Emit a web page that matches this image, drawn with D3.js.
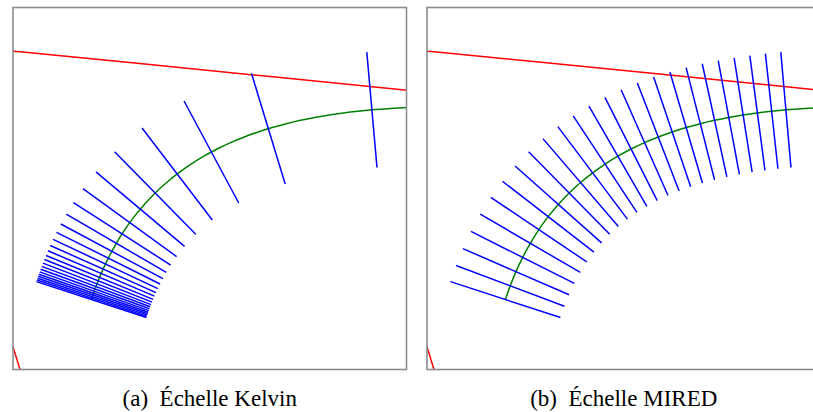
<!DOCTYPE html>
<html><head><meta charset="utf-8">
<script src="https://cdn.jsdelivr.net/npm/d3@7"></script>
<style>html,body{margin:0;padding:0;background:#fff;}svg{display:block;}</style>
</head><body>
<svg id="chart" width="813" height="412"></svg>
<script>
// ---------- data (CIE 1960 u,v) ----------
// Panel (a): isotherms at equal Kelvin steps (2000 K -> 20000 K, step 750 K)
const kelvinT  = [2000,2750,3500,4250,5000,5750,6500,7250,8000,8750,9500,10250,11000,11750,12500,13250,14000,14750,15500,16250,17000,17750,18500,19250,20000];
const kelvinU  = [0.30505,0.26031,0.23571,0.22093,0.21142,0.20499,0.20045,0.19712,0.19462,0.19269,0.19117,0.18994,0.18893,0.18810,0.18740,0.18680,0.18629,0.18584,0.18545,0.18511,0.18481,0.18454,0.18430,0.18408,0.18388];
const kelvinV  = [0.35907,0.35092,0.34084,0.33135,0.32312,0.31617,0.31036,0.30550,0.30141,0.29794,0.29499,0.29246,0.29027,0.28836,0.28668,0.28520,0.28388,0.28271,0.28165,0.28070,0.27984,0.27906,0.27834,0.27769,0.27709];
const kelvinNu = [-0.0880,-0.2914,-0.4725,-0.6072,-0.7007,-0.7649,-0.8094,-0.8411,-0.8643,-0.8815,-0.8948,-0.9051,-0.9133,-0.9199,-0.9254,-0.9299,-0.9338,-0.9370,-0.9398,-0.9422,-0.9443,-0.9461,-0.9478,-0.9492,-0.9505];
const kelvinNv = [0.9961,0.9566,0.8813,0.7945,0.7135,0.6442,0.5872,0.5408,0.5030,0.4721,0.4465,0.4252,0.4073,0.3920,0.3790,0.3677,0.3579,0.3493,0.3418,0.3351,0.3291,0.3237,0.3189,0.3145,0.3106];

// Panel (b): isotherms at equal MIRED steps (500 -> 50 mired, step 18.75)
const miredM  = [500,481.25,462.5,443.75,425,406.25,387.5,368.75,350,331.25,312.5,293.75,275,256.25,237.5,218.75,200,181.25,162.5,143.75,125,106.25,87.5,68.75,50];
const miredU  = [0.30505,0.29890,0.29274,0.28657,0.28039,0.27423,0.26808,0.26197,0.25591,0.24990,0.24399,0.23817,0.23247,0.22692,0.22155,0.21637,0.21142,0.20674,0.20236,0.19831,0.19462,0.19133,0.18844,0.18596,0.18388];
const miredV  = [0.35907,0.35846,0.35772,0.35683,0.35577,0.35453,0.35308,0.35142,0.34951,0.34734,0.34488,0.34213,0.33904,0.33561,0.33182,0.32766,0.32312,0.31819,0.31291,0.30730,0.30141,0.29531,0.28915,0.28302,0.27709];
const miredNu = [-0.0880,-0.1083,-0.1308,-0.1556,-0.1829,-0.2128,-0.2455,-0.2811,-0.3197,-0.3611,-0.4053,-0.4519,-0.5005,-0.5506,-0.6012,-0.6516,-0.7007,-0.7474,-0.7908,-0.8300,-0.8643,-0.8934,-0.9173,-0.9362,-0.9505];
const miredNv = [0.9961,0.9941,0.9914,0.9878,0.9831,0.9771,0.9694,0.9597,0.9475,0.9325,0.9142,0.8921,0.8657,0.8348,0.7991,0.7585,0.7135,0.6643,0.6121,0.5578,0.5030,0.4493,0.3983,0.3516,0.3106];

// Planckian locus (green), 575 mired (~1740 K) -> 50 mired (20000 K)
const locusU = [0.32931,0.32129,0.31320,0.30505,0.29890,0.29274,0.28657,0.28039,0.27423,0.26808,0.26197,0.25591,0.24990,0.24399,0.23817,0.23247,0.22692,0.22155,0.21637,0.21142,0.20674,0.20236,0.19831,0.19462,0.19133,0.18844,0.18596,0.18388];
const locusV = [0.36038,0.36011,0.35968,0.35907,0.35846,0.35772,0.35683,0.35577,0.35453,0.35308,0.35142,0.34951,0.34734,0.34488,0.34213,0.33904,0.33561,0.33182,0.32766,0.32312,0.31819,0.31291,0.30730,0.30141,0.29531,0.28915,0.28302,0.27709];

// Spectral locus (red, upper) and lower-left boundary (red)
const spectralU = [0.1319,0.1531,0.2026,0.2623,0.3315];
const spectralV = [0.3861,0.3841,0.3793,0.3733,0.3664];
const boundaryU = [0.1490,0.1550];
const boundaryV = [0.2600,0.2404];

const panelLabels = ["(a)\u2002\u00C9chelle Kelvin","(b)\u2002\u00C9chelle MIRED"];

// ---------- drawing ----------
const svg = d3.select("#chart");
const W = 393.5, H = 362, HALF = 0.025;
const x = d3.scaleLinear().domain([0.15,0.32]).range([0,W]);
const y = d3.scaleLinear().domain([0.24689,0.40326]).range([H,0]);

const panels = [
  {left:13,  T:kelvinT, U:kelvinU, V:kelvinV, Nu:kelvinNu, Nv:kelvinNv, label:panelLabels[0]},
  {left:427, T:miredM,  U:miredU,  V:miredV,  Nu:miredNu,  Nv:miredNv,  label:panelLabels[1]}
];

const line = d3.line().x(d=>x(d[0])).y(d=>y(d[1]));
const smooth = d3.line().x(d=>x(d[0])).y(d=>y(d[1])).curve(d3.curveCatmullRom.alpha(0.5));

panels.forEach((p,pi)=>{
  const g = svg.append("g").attr("transform",`translate(${p.left},7.5)`);
  const cid = "clip"+pi;
  g.append("clipPath").attr("id",cid).append("rect").attr("width",W).attr("height",H);
  const inner = g.append("g").attr("clip-path",`url(#${cid})`);

  inner.append("path").datum(d3.zip(spectralU,spectralV)).attr("d",line)
    .attr("fill","none").attr("stroke","#ff0000").attr("stroke-width",1.5);
  inner.append("path").datum(d3.zip(boundaryU,boundaryV)).attr("d",line)
    .attr("fill","none").attr("stroke","#ff0000").attr("stroke-width",1.5);

  inner.append("path").datum(d3.zip(locusU,locusV)).attr("d",smooth)
    .attr("fill","none").attr("stroke","#008000").attr("stroke-width",1.5);

  inner.selectAll("line.iso").data(p.T.map((t,i)=>i)).join("line").attr("class","iso")
    .attr("x1",i=>x(p.U[i]+HALF*p.Nu[i])).attr("y1",i=>y(p.V[i]+HALF*p.Nv[i]))
    .attr("x2",i=>x(p.U[i]-HALF*p.Nu[i])).attr("y2",i=>y(p.V[i]-HALF*p.Nv[i]))
    .attr("stroke","#0000ff").attr("stroke-width",1.5);

  g.append("rect").attr("width",W).attr("height",H)
    .attr("fill","none").attr("stroke","#8c8c8c").attr("stroke-width",1.6);

  svg.append("text").attr("x",p.left+W/2).attr("y",406)
    .attr("text-anchor","middle")
    .attr("font-family","'Liberation Serif', serif").attr("font-size",23)
    .attr("fill","#000").text(p.label);
});
</script></body></html>
